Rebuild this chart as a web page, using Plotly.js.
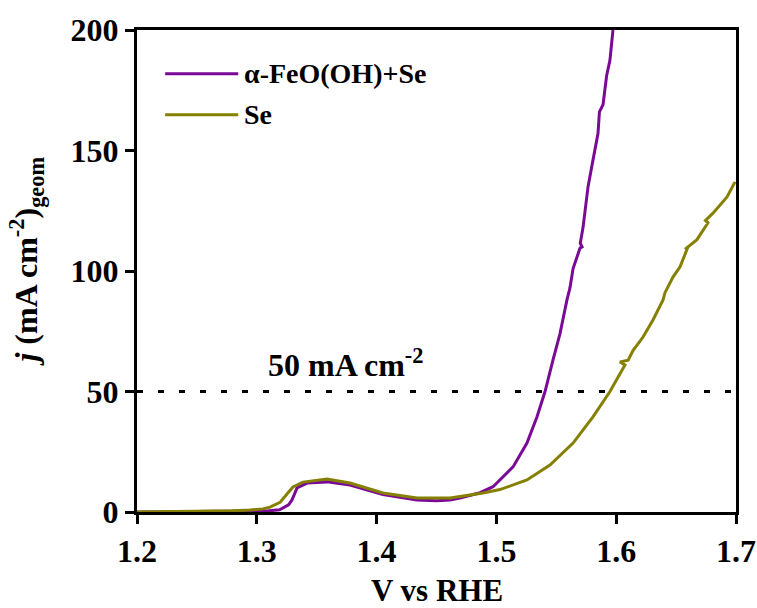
<!DOCTYPE html>
<html>
<head>
<meta charset="utf-8">
<script src="https://cdn.plot.ly/plotly-3.0.1.min.js"></script>
<style>html,body{margin:0;padding:0;background:#fff;}#chart{width:757px;height:608px;}</style>
</head>
<body>
<div id="chart"></div>
<script>
// Series names
const seriesNames = ["\u03b1-FeO(OH)+Se", "Se"];
const seriesColors = ["#7a0a96", "#858000"];

// α-FeO(OH)+Se : potential (V vs RHE) and current density (mA cm-2)
const vFeO = [1.200, 1.250, 1.290, 1.310, 1.319, 1.322, 1.3265, 1.3294, 1.3336, 1.3419, 1.3586, 1.3778, 1.4053, 1.4337, 1.450, 1.4613, 1.4696, 1.4863, 1.4972, 1.5139, 1.5255, 1.5339, 1.5406, 1.5472, 1.5531, 1.5589, 1.5614, 1.564, 1.5698, 1.5715, 1.5700, 1.5723, 1.5765, 1.5806, 1.5848, 1.5860, 1.5882, 1.5890, 1.5920, 1.5948, 1.5973];
const jFeO = [0.0, 0.1, 0.3, 0.5, 0.9, 1.7, 3.0, 5.0, 10.0, 12.0, 12.5, 11.2, 7.2, 5.0, 4.7, 5.0, 5.8, 8.0, 10.5, 18.7, 28.6, 39.5, 50.0, 63.0, 74.0, 88.0, 93.0, 101.0, 109.5, 110.0, 111.5, 118.0, 135.0, 146.0, 157.0, 166.0, 168.0, 169.0, 181.0, 187.5, 200.0];

// Se : potential (V vs RHE) and current density (mA cm-2)
const vSe = [1.200, 1.250, 1.280, 1.2943, 1.305, 1.311, 1.317, 1.3194, 1.3252, 1.3302, 1.3386, 1.3586, 1.3778, 1.4053, 1.4337, 1.4613, 1.4888, 1.503, 1.5255, 1.5447, 1.564, 1.5806, 1.5948, 1.6057, 1.6073, 1.6032, 1.610, 1.614, 1.6224, 1.6307, 1.6391, 1.6407, 1.6474, 1.6533, 1.6599, 1.6574, 1.6674, 1.6766, 1.6745, 1.6808, 1.6925, 1.6992];
const jSe = [0.0, 0.2, 0.5, 0.8, 1.3, 2.0, 3.2, 4.0, 7.5, 10.4, 12.4, 13.7, 12.0, 7.9, 5.8, 5.8, 7.9, 9.3, 13.3, 19.5, 28.6, 39.5, 50.0, 59.5, 61.0, 62.3, 63.0, 67.0, 72.6, 79.7, 88.0, 91.0, 97.5, 101.7, 110.0, 109.0, 113.0, 120.0, 121.0, 124.0, 130.7, 137.0];

// Reference level
const refLevel = 50;
const refLabel = "50 mA cm<sup>-2</sup>";
const xRange = [1.2, 1.7];
const yRange = [0, 200];
const xTicks = [1.2, 1.3, 1.4, 1.5, 1.6, 1.7];
const yTicks = [0, 50, 100, 150, 200];
const xTitle = "V vs RHE";
const yTitle = "<i>j</i> (mA cm<sup>-2</sup>)<sub>geom</sub>";

const FONT = "Liberation Serif, Times New Roman, serif";

const traces = [
  {x: vFeO, y: jFeO, name: seriesNames[0], mode: "lines", line: {color: seriesColors[0], width: 3}},
  {x: vSe, y: jSe, name: seriesNames[1], mode: "lines", line: {color: seriesColors[1], width: 3}},
  {x: xRange, y: [refLevel, refLevel], mode: "lines", showlegend: false, hoverinfo: "skip",
   line: {color: "#000", width: 3, dash: "6px,15px"}}
];

// Hand-drawn legend (long sample lines as in the reference)
const legendY = [0.909, 0.824];
const legendShapes = seriesNames.map((n, i) => ({
  type: "line", xref: "paper", yref: "paper", x0: 0.047, x1: 0.169, y0: legendY[i], y1: legendY[i],
  line: {color: seriesColors[i], width: 3}
}));
const legendTexts = seriesNames.map((n, i) => ({
  xref: "paper", yref: "paper", x: 0.176, y: legendY[i], xanchor: "left", yanchor: "middle",
  text: n, showarrow: false, font: {family: FONT, size: 28, weight: "bold"}
}));

const layout = {
  width: 757, height: 608,
  margin: {l: 137, r: 21, t: 30, b: 96},
  paper_bgcolor: "#fff", plot_bgcolor: "#fff",
  font: {family: FONT, color: "#000"},
  showlegend: false,
  xaxis: {range: xRange, tickvals: xTicks, ticktext: xTicks.map(v => v.toFixed(1)),
          showgrid: false, zeroline: false, showline: true, linecolor: "#000", linewidth: 3, mirror: true,
          ticks: "outside", ticklen: 9, tickwidth: 3, tickcolor: "#000",
          tickfont: {family: FONT, size: 32, weight: "bold"}},
  yaxis: {range: yRange, tickvals: yTicks, ticktext: yTicks.map(String),
          showgrid: false, zeroline: false, showline: true, linecolor: "#000", linewidth: 3, mirror: true,
          ticks: "outside", ticklen: 9, tickwidth: 3, tickcolor: "#000",
          tickfont: {family: FONT, size: 32, weight: "bold"}},
  shapes: legendShapes,
  annotations: legendTexts.concat([
    {x: 1.3745, y: 62, xref: "x", yref: "y", text: refLabel, showarrow: false,
     font: {family: FONT, size: 32, weight: "bold"}},
    {x: -0.185, y: 0.52, xref: "paper", yref: "paper", text: yTitle, textangle: -90, showarrow: false,
     xanchor: "center", yanchor: "middle", font: {family: FONT, size: 32, weight: "bold"}},
    {x: 0.5, y: -0.162, xref: "paper", yref: "paper", text: xTitle, showarrow: false,
     xanchor: "center", yanchor: "middle", font: {family: FONT, size: 31, weight: "bold"}}
  ])
};

Plotly.newPlot("chart", traces, layout, {displayModeBar: false, staticPlot: true});
</script>
</body>
</html>
